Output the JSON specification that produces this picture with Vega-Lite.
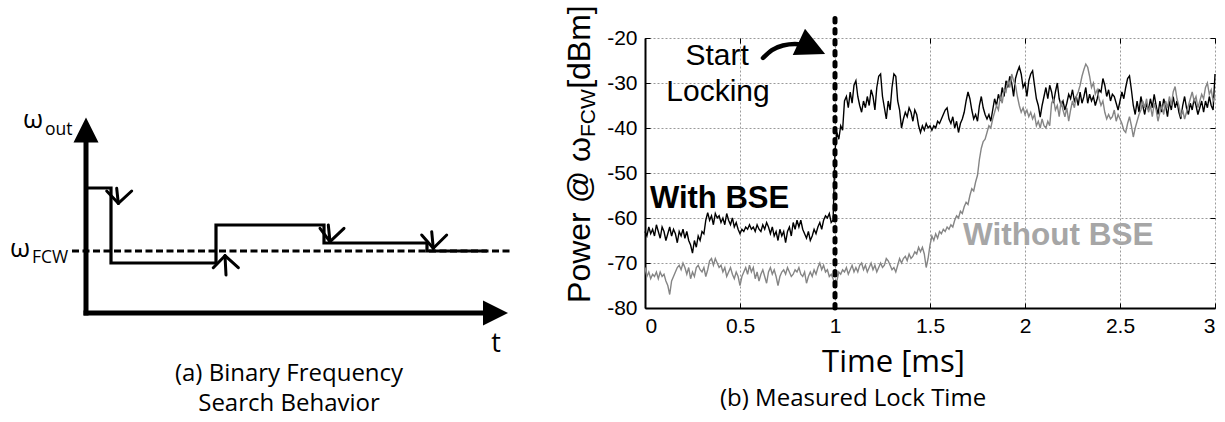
{
"$schema": "https://vega.github.io/schema/vega-lite/v6.json",
"padding": {"left": 0, "top": 5, "right": 0, "bottom": 8},
"autosize": {"type": "pad"},
"bounds": "flush",
"spacing": 125,
"background": "white",
"config": {"view": {"stroke": null}},
"datasets": {
"lock": [
{"t":0,"w":-63,"g":-71},{"t":0.01,"w":-64,"g":-73},{"t":0.02,"w":-62,"g":-72},{"t":0.03,"w":-63.5,"g":-73.5},{"t":0.04,"w":-62.5,"g":-72.5},{"t":0.05,"w":-64,"g":-73},{"t":0.06,"w":-61.5,"g":-72},{"t":0.07,"w":-63,"g":-73.5},{"t":0.08,"w":-64.5,"g":-72},{"t":0.09,"w":-62,"g":-73},
{"t":0.1,"w":-63,"g":-72.5},{"t":0.11,"w":-65,"g":-74},{"t":0.12,"w":-63.5,"g":-75},{"t":0.13,"w":-62,"g":-77},{"t":0.14,"w":-64,"g":-74},{"t":0.15,"w":-62.5,"g":-73},{"t":0.16,"w":-63.5,"g":-72},{"t":0.17,"w":-65.5,"g":-71},{"t":0.18,"w":-63,"g":-70.5},{"t":0.19,"w":-64,"g":-71.5},
{"t":0.2,"w":-62.5,"g":-70},{"t":0.21,"w":-64.5,"g":-71},{"t":0.22,"w":-63,"g":-72.5},{"t":0.23,"w":-65,"g":-71},{"t":0.24,"w":-66,"g":-73.5},{"t":0.25,"w":-67.8,"g":-72},{"t":0.26,"w":-65,"g":-73},{"t":0.27,"w":-66.5,"g":-71},{"t":0.28,"w":-64,"g":-70.5},{"t":0.29,"w":-65,"g":-71.5},
{"t":0.3,"w":-63,"g":-72},{"t":0.31,"w":-63.5,"g":-71},{"t":0.32,"w":-60.5,"g":-73},{"t":0.33,"w":-58.8,"g":-71.5},{"t":0.34,"w":-60.5,"g":-69.5},{"t":0.35,"w":-59.5,"g":-69},{"t":0.36,"w":-61.5,"g":-70.5},{"t":0.37,"w":-59,"g":-69},{"t":0.38,"w":-60,"g":-70},{"t":0.39,"w":-59.5,"g":-71},
{"t":0.4,"w":-61,"g":-70.5},{"t":0.41,"w":-60,"g":-72},{"t":0.42,"w":-61.5,"g":-71},{"t":0.43,"w":-59,"g":-73},{"t":0.44,"w":-60.5,"g":-72},{"t":0.45,"w":-61.5,"g":-71},{"t":0.46,"w":-60,"g":-72.5},{"t":0.47,"w":-62,"g":-73.5},{"t":0.48,"w":-61,"g":-72},{"t":0.49,"w":-62.5,"g":-73},
{"t":0.5,"w":-63.5,"g":-75},{"t":0.51,"w":-62.5,"g":-73},{"t":0.52,"w":-63,"g":-72},{"t":0.53,"w":-62,"g":-71},{"t":0.54,"w":-62.5,"g":-72.5},{"t":0.55,"w":-61.5,"g":-70.5},{"t":0.56,"w":-62.5,"g":-72},{"t":0.57,"w":-62,"g":-71},{"t":0.58,"w":-63,"g":-73.5},{"t":0.59,"w":-61.5,"g":-72},
{"t":0.6,"w":-62.5,"g":-74},{"t":0.61,"w":-63,"g":-72.5},{"t":0.62,"w":-61.5,"g":-71.5},{"t":0.63,"w":-62.5,"g":-73},{"t":0.64,"w":-61,"g":-74.5},{"t":0.65,"w":-62,"g":-72},{"t":0.66,"w":-63.5,"g":-71},{"t":0.67,"w":-62,"g":-72.5},{"t":0.68,"w":-64,"g":-71.5},{"t":0.69,"w":-63,"g":-73},
{"t":0.7,"w":-65,"g":-75},{"t":0.71,"w":-62.5,"g":-73},{"t":0.72,"w":-64,"g":-72},{"t":0.73,"w":-63,"g":-71.5},{"t":0.74,"w":-65.5,"g":-72.5},{"t":0.75,"w":-63,"g":-71},{"t":0.76,"w":-62,"g":-72},{"t":0.77,"w":-64,"g":-73},{"t":0.78,"w":-61,"g":-72.5},{"t":0.79,"w":-62.5,"g":-71.5},
{"t":0.8,"w":-60.5,"g":-72},{"t":0.81,"w":-62,"g":-71},{"t":0.82,"w":-60.5,"g":-72.5},{"t":0.83,"w":-62.5,"g":-73},{"t":0.84,"w":-63.5,"g":-72},{"t":0.85,"w":-64.5,"g":-74.5},{"t":0.86,"w":-63,"g":-73},{"t":0.87,"w":-65,"g":-72},{"t":0.88,"w":-64,"g":-73},{"t":0.89,"w":-62.5,"g":-71.5},
{"t":0.9,"w":-63.5,"g":-72.5},{"t":0.91,"w":-62,"g":-71},{"t":0.92,"w":-61,"g":-70},{"t":0.93,"w":-62.5,"g":-71.5},{"t":0.94,"w":-60.5,"g":-70.5},{"t":0.95,"w":-59.5,"g":-72},{"t":0.96,"w":-60,"g":-71.5},{"t":0.97,"w":-59,"g":-73},{"t":0.98,"w":-61,"g":-72.5},{"t":0.99,"w":-60.5,"g":-73.5},
{"t":1,"w":-45,"g":-75},{"t":1.01,"w":-41,"g":-74},{"t":1.02,"w":-42.5,"g":-72},{"t":1.03,"w":-39.5,"g":-72.5},{"t":1.04,"w":-40.5,"g":-71.5},{"t":1.05,"w":-34,"g":-72},{"t":1.06,"w":-33,"g":-71},{"t":1.07,"w":-35.5,"g":-72.5},{"t":1.08,"w":-32,"g":-71.5},{"t":1.09,"w":-34.5,"g":-70.5},
{"t":1.1,"w":-30.5,"g":-72},{"t":1.11,"w":-29.5,"g":-71},{"t":1.12,"w":-33,"g":-72},{"t":1.13,"w":-35,"g":-70.5},{"t":1.14,"w":-36.5,"g":-70},{"t":1.15,"w":-34,"g":-71.5},{"t":1.16,"w":-35.5,"g":-70.5},{"t":1.17,"w":-33,"g":-72},{"t":1.18,"w":-35,"g":-71},{"t":1.19,"w":-31.5,"g":-70},
{"t":1.2,"w":-33,"g":-71.5},{"t":1.21,"w":-36,"g":-70.5},{"t":1.22,"w":-31,"g":-72},{"t":1.23,"w":-28.5,"g":-71},{"t":1.24,"w":-28,"g":-70},{"t":1.25,"w":-33,"g":-71},{"t":1.26,"w":-35.5,"g":-70.5},{"t":1.27,"w":-38,"g":-69},{"t":1.28,"w":-34,"g":-69.5},{"t":1.29,"w":-36,"g":-70.5},
{"t":1.3,"w":-31,"g":-71.5},{"t":1.31,"w":-28,"g":-71},{"t":1.32,"w":-28.5,"g":-72},{"t":1.33,"w":-34,"g":-70.5},{"t":1.34,"w":-36,"g":-69},{"t":1.35,"w":-40,"g":-70},{"t":1.36,"w":-38,"g":-69},{"t":1.37,"w":-36.5,"g":-68.5},{"t":1.38,"w":-37.5,"g":-69.5},{"t":1.39,"w":-35.5,"g":-68},
{"t":1.4,"w":-36.5,"g":-69},{"t":1.41,"w":-38.5,"g":-68.5},{"t":1.42,"w":-36,"g":-67.5},{"t":1.43,"w":-37,"g":-68},{"t":1.44,"w":-39.5,"g":-66.5},{"t":1.45,"w":-41,"g":-67.5},{"t":1.46,"w":-39.5,"g":-66.5},{"t":1.47,"w":-40.5,"g":-68},{"t":1.48,"w":-39,"g":-71},{"t":1.49,"w":-40,"g":-69},
{"t":1.5,"w":-39.5,"g":-66},{"t":1.51,"w":-40.5,"g":-64},{"t":1.52,"w":-39.5,"g":-65},{"t":1.53,"w":-40,"g":-63.5},{"t":1.54,"w":-38.5,"g":-64.5},{"t":1.55,"w":-39,"g":-63},{"t":1.56,"w":-38,"g":-63.5},{"t":1.57,"w":-37,"g":-62.5},{"t":1.58,"w":-36,"g":-63},{"t":1.59,"w":-35.5,"g":-62},
{"t":1.6,"w":-38,"g":-62.5},{"t":1.61,"w":-39,"g":-61.5},{"t":1.62,"w":-37.5,"g":-62},{"t":1.63,"w":-40,"g":-60.5},{"t":1.64,"w":-38.5,"g":-59.5},{"t":1.65,"w":-41,"g":-60},{"t":1.66,"w":-39,"g":-58.5},{"t":1.67,"w":-38,"g":-59},{"t":1.68,"w":-36.5,"g":-57.5},{"t":1.69,"w":-34,"g":-56.5},
{"t":1.7,"w":-32,"g":-57},{"t":1.71,"w":-33.5,"g":-55},{"t":1.72,"w":-36,"g":-53.5},{"t":1.73,"w":-38,"g":-54},{"t":1.74,"w":-37,"g":-52},{"t":1.75,"w":-38.5,"g":-50.5},{"t":1.76,"w":-35,"g":-47},{"t":1.77,"w":-33,"g":-44.5},{"t":1.78,"w":-35.5,"g":-43},{"t":1.79,"w":-37,"g":-42.5},
{"t":1.8,"w":-38,"g":-41},{"t":1.81,"w":-37,"g":-39.5},{"t":1.82,"w":-38.5,"g":-40},{"t":1.83,"w":-36,"g":-38},{"t":1.84,"w":-33.5,"g":-36.5},{"t":1.85,"w":-35,"g":-35},{"t":1.86,"w":-32.5,"g":-36},{"t":1.87,"w":-34,"g":-33},{"t":1.88,"w":-31,"g":-34.5},{"t":1.89,"w":-33,"g":-31.5},
{"t":1.9,"w":-29.5,"g":-32},{"t":1.91,"w":-31,"g":-29.5},{"t":1.92,"w":-28.5,"g":-31},{"t":1.93,"w":-30,"g":-28},{"t":1.94,"w":-33,"g":-29.5},{"t":1.95,"w":-29,"g":-30.5},{"t":1.96,"w":-27.5,"g":-33},{"t":1.97,"w":-26.4,"g":-35},{"t":1.98,"w":-28,"g":-36.5},{"t":1.99,"w":-31,"g":-35.5},
{"t":2,"w":-30,"g":-37},{"t":2.01,"w":-33,"g":-36},{"t":2.02,"w":-29.5,"g":-37.5},{"t":2.03,"w":-28,"g":-36.5},{"t":2.04,"w":-27.3,"g":-38},{"t":2.05,"w":-30.5,"g":-37},{"t":2.06,"w":-33.5,"g":-39.5},{"t":2.07,"w":-35,"g":-38.5},{"t":2.08,"w":-37.6,"g":-40},{"t":2.09,"w":-35,"g":-38},
{"t":2.1,"w":-33,"g":-39.5},{"t":2.11,"w":-31,"g":-40},{"t":2.12,"w":-33.5,"g":-38.5},{"t":2.13,"w":-30.5,"g":-39.5},{"t":2.14,"w":-32,"g":-34.5},{"t":2.15,"w":-34.5,"g":-33.5},{"t":2.16,"w":-32,"g":-36},{"t":2.17,"w":-30,"g":-35},{"t":2.18,"w":-33.5,"g":-37.5},{"t":2.19,"w":-35,"g":-34},
{"t":2.2,"w":-34,"g":-36},{"t":2.21,"w":-36,"g":-37.5},{"t":2.22,"w":-34.5,"g":-35.5},{"t":2.23,"w":-32.5,"g":-38.5},{"t":2.24,"w":-33.5,"g":-36},{"t":2.25,"w":-31.5,"g":-34},{"t":2.26,"w":-34,"g":-35.5},{"t":2.27,"w":-33,"g":-33},{"t":2.28,"w":-35,"g":-32},{"t":2.29,"w":-32,"g":-30.5},
{"t":2.3,"w":-34.5,"g":-28.5},{"t":2.31,"w":-33,"g":-27},{"t":2.32,"w":-31,"g":-25.8},{"t":2.33,"w":-34.5,"g":-26.5},{"t":2.34,"w":-32.5,"g":-28.5},{"t":2.35,"w":-34,"g":-31},{"t":2.36,"w":-33,"g":-30},{"t":2.37,"w":-35,"g":-32.5},{"t":2.38,"w":-33.5,"g":-31.5},{"t":2.39,"w":-31.5,"g":-33.5},
{"t":2.4,"w":-32,"g":-35},{"t":2.41,"w":-29,"g":-34},{"t":2.42,"w":-30.5,"g":-36.5},{"t":2.43,"w":-33,"g":-38},{"t":2.44,"w":-31.5,"g":-37},{"t":2.45,"w":-34,"g":-38},{"t":2.46,"w":-32.5,"g":-37.5},{"t":2.47,"w":-33,"g":-36},{"t":2.48,"w":-34.5,"g":-38.5},{"t":2.49,"w":-36,"g":-37},
{"t":2.5,"w":-34,"g":-38},{"t":2.51,"w":-32,"g":-39},{"t":2.52,"w":-33.5,"g":-40.5},{"t":2.53,"w":-31,"g":-41},{"t":2.54,"w":-29,"g":-39},{"t":2.55,"w":-28.4,"g":-37.5},{"t":2.56,"w":-31.5,"g":-39.5},{"t":2.57,"w":-35,"g":-42},{"t":2.58,"w":-37,"g":-40},{"t":2.59,"w":-34,"g":-38.5},
{"t":2.6,"w":-36.5,"g":-37},{"t":2.61,"w":-33,"g":-36},{"t":2.62,"w":-35,"g":-34},{"t":2.63,"w":-37,"g":-35.5},{"t":2.64,"w":-34.5,"g":-33.5},{"t":2.65,"w":-36,"g":-36.5},{"t":2.66,"w":-33.5,"g":-35},{"t":2.67,"w":-35.5,"g":-37.5},{"t":2.68,"w":-32.5,"g":-34.5},{"t":2.69,"w":-35,"g":-36},
{"t":2.7,"w":-37,"g":-38.5},{"t":2.71,"w":-34,"g":-36.5},{"t":2.72,"w":-36.5,"g":-35},{"t":2.73,"w":-33.5,"g":-37},{"t":2.74,"w":-35,"g":-34},{"t":2.75,"w":-37.5,"g":-35.5},{"t":2.76,"w":-34,"g":-33},{"t":2.77,"w":-36,"g":-35},{"t":2.78,"w":-33,"g":-32},{"t":2.79,"w":-35.5,"g":-30.8},
{"t":2.8,"w":-34,"g":-33.5},{"t":2.81,"w":-36.5,"g":-35},{"t":2.82,"w":-38,"g":-37.5},{"t":2.83,"w":-35,"g":-36},{"t":2.84,"w":-33,"g":-38},{"t":2.85,"w":-35.5,"g":-36.5},{"t":2.86,"w":-37,"g":-35},{"t":2.87,"w":-34.5,"g":-33.5},{"t":2.88,"w":-36,"g":-32},{"t":2.89,"w":-33.5,"g":-34},
{"t":2.9,"w":-35,"g":-33},{"t":2.91,"w":-37,"g":-35.5},{"t":2.92,"w":-35.5,"g":-34},{"t":2.93,"w":-34,"g":-32.5},{"t":2.94,"w":-36.5,"g":-33.5},{"t":2.95,"w":-34,"g":-31},{"t":2.96,"w":-35.5,"g":-30},{"t":2.97,"w":-33,"g":-32.5},{"t":2.98,"w":-35,"g":-31.5},{"t":2.99,"w":-36,"g":-34},
{"t":3,"w":-28,"g":-33}
]
},
"hconcat": [
{
"width": 520, "height": 270,
"encoding": {
 "x": {"field": "u", "type": "quantitative", "scale": {"domain": [-8.6, 43.4], "nice": false, "zero": false}, "axis": null},
 "y": {"field": "v", "type": "quantitative", "scale": {"domain": [0.5, 27.5], "nice": false, "zero": false}, "axis": null}
},
"layer": [
 {"data": {"values": [{"u": -1.4, "v": 6.2, "u2": 42.4}]},
  "mark": {"type": "rule", "strokeDash": [7, 3.5], "strokeWidth": 3, "color": "black"},
  "encoding": {"x2": {"field": "u2"}}},
 {"data": {"values": [{"u": 0, "v": 0, "u2": 0, "v2": 17.6}, {"u": 0, "v": 0, "u2": 40, "v2": 0}]},
  "mark": {"type": "rule", "strokeWidth": 5, "strokeCap": "square", "color": "black"},
  "encoding": {"x2": {"field": "u2"}, "y2": {"field": "v2"}}},
 {"data": {"values": [
   {"i": 0, "u": 0, "v": 12.5}, {"i": 1, "u": 2.5, "v": 12.5}, {"i": 2, "u": 2.5, "v": 5.0},
   {"i": 3, "u": 13, "v": 5.0}, {"i": 4, "u": 13, "v": 8.8}, {"i": 5, "u": 23.8, "v": 8.8},
   {"i": 6, "u": 23.8, "v": 7.0}, {"i": 7, "u": 34.1, "v": 7.0}, {"i": 8, "u": 34.1, "v": 6.2},
   {"i": 9, "u": 40.1, "v": 6.2}]},
  "mark": {"type": "line", "strokeWidth": 3.2, "color": "black", "strokeJoin": "miter"},
  "encoding": {"order": {"field": "i", "type": "quantitative"}}},
 {"data": {"values": [
   {"u": 3.07, "v": 12.47, "u2": 3.23, "v2": 10.97}, {"u": 2.07, "v": 12.2, "u2": 3.23, "v2": 10.97}, {"u": 4.57, "v": 12.2, "u2": 3.23, "v2": 10.97},
   {"u": 14.0, "v": 3.8, "u2": 13.9, "v2": 5.73}, {"u": 12.73, "v": 4.53, "u2": 13.9, "v2": 5.73}, {"u": 15.23, "v": 4.53, "u2": 13.9, "v2": 5.73},
   {"u": 24.23, "v": 8.8, "u2": 24.4, "v2": 7.13}, {"u": 23.4, "v": 8.47, "u2": 24.4, "v2": 7.13}, {"u": 25.8, "v": 8.47, "u2": 24.4, "v2": 7.13},
   {"u": 34.57, "v": 8.13, "u2": 34.73, "v2": 6.47}, {"u": 33.57, "v": 7.8, "u2": 34.73, "v2": 6.47}, {"u": 36.07, "v": 7.8, "u2": 34.73, "v2": 6.47}]},
  "mark": {"type": "rule", "strokeWidth": 3, "strokeCap": "round", "color": "black"},
  "encoding": {"x2": {"field": "u2"}, "y2": {"field": "v2"}}},
 {"data": {"values": [{"u": 0, "v": 18.3}]},
  "mark": {"type": "point", "shape": "M0,-1L1,1L-1,1Z", "size": 625, "filled": true, "color": "black", "opacity": 1}},
 {"data": {"values": [{"u": 40.95, "v": 0}]},
  "mark": {"type": "point", "shape": "M-1,-1L1,0L-1,1Z", "size": 625, "filled": true, "color": "black", "opacity": 1}},
 {"data": {"values": [{"u": -4.3, "v": 18.5, "label": "ω"}, {"u": -5.6, "v": 5.6, "label": "ω"}]},
  "mark": {"type": "text", "font": "Open Sans", "fontSize": 26, "align": "right", "baseline": "alphabetic", "color": "black"},
  "encoding": {"text": {"field": "label"}}},
 {"data": {"values": [{"u": -4.1, "v": 17.8, "label": "out"}, {"u": -5.4, "v": 5.0, "label": "FCW"}]},
  "mark": {"type": "text", "font": "Open Sans", "fontSize": 17.5, "align": "left", "baseline": "alphabetic", "color": "black"},
  "encoding": {"text": {"field": "label"}}},
 {"data": {"values": [{"u": 41.0, "v": -3.9, "label": "t"}]},
  "mark": {"type": "text", "font": "Open Sans", "fontSize": 27, "align": "center", "baseline": "alphabetic", "color": "black"},
  "encoding": {"text": {"field": "label"}}},
 {"data": {"values": [{"u": 20.3, "v": -6.8, "label": "(a) Binary Frequency\nSearch Behavior"}]},
  "mark": {"type": "text", "font": "Open Sans", "fontSize": 24, "align": "center", "baseline": "alphabetic", "lineBreak": "\n", "lineHeight": 30, "color": "black"},
  "encoding": {"text": {"field": "label"}}}
]
},
{
"width": 570, "height": 270,
"resolve": {"axis": {"x": "independent", "y": "independent"}},
"layer": [
 {"data": {"name": "lock"},
  "mark": {"type": "line", "strokeWidth": 1.4, "color": "#000000"},
  "encoding": {
   "x": {"field": "t", "type": "quantitative", "scale": {"domain": [0, 3], "nice": false, "zero": false},
     "axis": {"values": [0, 0.5, 1, 1.5, 2, 2.5, 3], "labelExpr": "datum.value + ''", "grid": true, "gridColor": "#9a9a9a", "gridDash": [2, 2], "gridWidth": 1,
       "domainColor": "black", "domainWidth": 2, "tickColor": "black", "tickSize": -5, "tickWidth": 1,
       "labelFont": "Liberation Sans", "labelFontSize": 21, "labelColor": "black", "labelPadding": 12,
       "title": "Time [ms]", "titleFont": "Open Sans", "titleFontSize": 31, "titleFontWeight": "normal", "titleColor": "black",
       "titleX": 248, "titleY": 63, "titleBaseline": "alphabetic"}},
   "y": {"field": "w", "type": "quantitative", "scale": {"domain": [-80, -20], "nice": false, "zero": false},
     "axis": {"values": [-80, -70, -60, -50, -40, -30, -20], "labelExpr": "datum.value + ''", "grid": true, "gridColor": "#9a9a9a", "gridDash": [2, 2], "gridWidth": 1,
       "domainColor": "black", "domainWidth": 2, "tickColor": "black", "tickSize": -5, "tickWidth": 1,
       "labelFont": "Liberation Sans", "labelFontSize": 21, "labelColor": "black", "labelPadding": 13, "title": null}}
  }},
 {"data": {"name": "lock"},
  "mark": {"type": "line", "strokeWidth": 1.4, "color": "#858585"},
  "encoding": {
   "x": {"field": "t", "type": "quantitative", "scale": {"domain": [0, 3], "nice": false, "zero": false}, "axis": null},
   "y": {"field": "g", "type": "quantitative", "scale": {"domain": [-80, -20], "nice": false, "zero": false}, "axis": null}
  }},
 {"data": {"values": [{"t": 0, "p": -20}, {"t": 3, "p": -80}]},
  "mark": {"type": "point", "opacity": 0},
  "encoding": {
   "x": {"field": "t", "type": "quantitative", "axis": {"orient": "top", "values": [0, 0.5, 1, 1.5, 2, 2.5, 3], "labels": false, "domain": false, "grid": false, "tickSize": -5, "tickColor": "black", "tickWidth": 1, "title": null}},
   "y": {"field": "p", "type": "quantitative", "axis": {"orient": "right", "values": [-80, -70, -60, -50, -40, -30, -20], "labels": false, "domain": false, "grid": false, "tickSize": -5, "tickColor": "black", "tickWidth": 1, "title": null}}
  }},
 {"data": {"values": [{"t": 1, "p": -80, "p2": -14.4}]},
  "mark": {"type": "rule", "strokeWidth": 5, "strokeDash": [3.5, 7.5], "strokeCap": "round", "color": "black"},
  "encoding": {
   "x": {"field": "t", "type": "quantitative", "axis": null},
   "y": {"field": "p", "type": "quantitative", "axis": null},
   "y2": {"field": "p2"}
  }},
 {"data": {"values": [{"t": 0.621, "p": -24.44}, {"t": 0.668, "p": -22.67}, {"t": 0.726, "p": -21.67}, {"t": 0.789, "p": -21.33}, {"t": 0.832, "p": -21.56}]},
  "mark": {"type": "line", "strokeWidth": 4.5, "strokeCap": "round", "color": "black", "interpolate": "monotone"},
  "encoding": {
   "x": {"field": "t", "type": "quantitative", "axis": null},
   "y": {"field": "p", "type": "quantitative", "axis": null}
  }},
 {"data": {"values": [{"t": 0.879, "p": -22.2}]},
  "mark": {"type": "point", "shape": "M-1,-1L1,0L-1,1Z", "size": 841, "angle": 25, "filled": true, "color": "black", "opacity": 1},
  "encoding": {
   "x": {"field": "t", "type": "quantitative", "axis": null},
   "y": {"field": "p", "type": "quantitative", "axis": null}
  }},
 {"data": {"values": [{"t": 0.026, "p": -57.8, "label": "With BSE"}]},
  "mark": {"type": "text", "font": "Liberation Sans", "fontSize": 31, "fontWeight": "bold", "align": "left", "baseline": "alphabetic", "color": "black"},
  "encoding": {"x": {"field": "t", "type": "quantitative", "axis": null}, "y": {"field": "p", "type": "quantitative", "axis": null}, "text": {"field": "label"}}},
 {"data": {"values": [{"t": 1.674, "p": -66.0, "label": "Without BSE"}]},
  "mark": {"type": "text", "font": "Liberation Sans", "fontSize": 31.5, "fontWeight": "bold", "align": "left", "baseline": "alphabetic", "color": "#a6a6a6"},
  "encoding": {"x": {"field": "t", "type": "quantitative", "axis": null}, "y": {"field": "p", "type": "quantitative", "axis": null}, "text": {"field": "label"}}},
 {"data": {"values": [{"t": 0.38, "p": -26.0, "label": "Start"}, {"t": 0.384, "p": -34.0, "label": "Locking"}]},
  "mark": {"type": "text", "font": "Liberation Sans", "fontSize": 30, "align": "center", "baseline": "alphabetic", "color": "black"},
  "encoding": {"x": {"field": "t", "type": "quantitative", "axis": null}, "y": {"field": "p", "type": "quantitative", "axis": null}, "text": {"field": "label"}}},
 {"data": {"values": [{"t": 1.095, "p": -101.8, "label": "(b) Measured Lock Time"}]},
  "mark": {"type": "text", "font": "Open Sans", "fontSize": 24, "align": "center", "baseline": "alphabetic", "color": "black"},
  "encoding": {"x": {"field": "t", "type": "quantitative", "axis": null}, "y": {"field": "p", "type": "quantitative", "axis": null}, "text": {"field": "label"}}},
 {"data": {"values": [{"t": -0.289, "p": -42.0, "label": "Power @ ω"}]},
  "mark": {"type": "text", "font": "Liberation Sans", "fontSize": 32, "angle": 270, "align": "right", "baseline": "alphabetic", "color": "black"},
  "encoding": {"x": {"field": "t", "type": "quantitative", "axis": null}, "y": {"field": "p", "type": "quantitative", "axis": null}, "text": {"field": "label"}}},
 {"data": {"values": [{"t": -0.263, "p": -42.0, "label": "FCW"}]},
  "mark": {"type": "text", "font": "Liberation Sans", "fontSize": 21, "angle": 270, "align": "left", "baseline": "alphabetic", "color": "black"},
  "encoding": {"x": {"field": "t", "type": "quantitative", "axis": null}, "y": {"field": "p", "type": "quantitative", "axis": null}, "text": {"field": "label"}}},
 {"data": {"values": [{"t": -0.289, "p": -31.3, "label": "[dBm]"}]},
  "mark": {"type": "text", "font": "Liberation Sans", "fontSize": 32, "angle": 270, "align": "left", "baseline": "alphabetic", "color": "black"},
  "encoding": {"x": {"field": "t", "type": "quantitative", "axis": null}, "y": {"field": "p", "type": "quantitative", "axis": null}, "text": {"field": "label"}}}
]
}
]
}
